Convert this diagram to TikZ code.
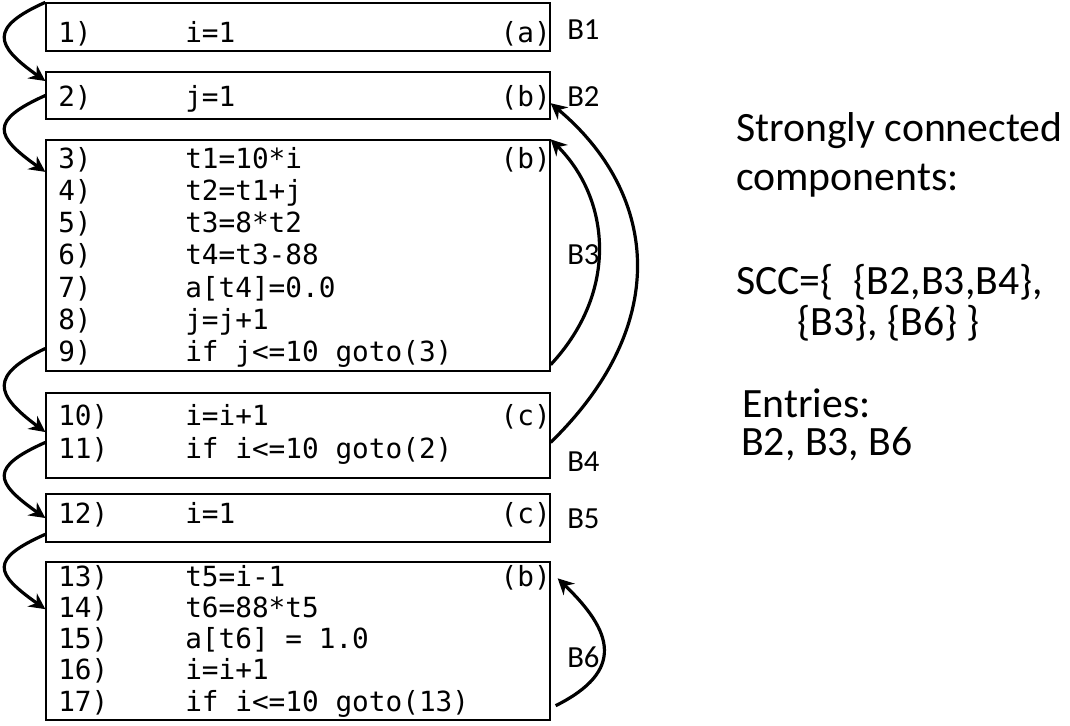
\documentclass[tikz,border=0pt]{standalone}
\usepackage{fontspec}
\setmainfont{Carlito}
\newfontfamily\codefont{DejaVu Sans Mono}
\usepackage{tikz}
\usetikzlibrary{arrows.meta}
\usetikzlibrary{calc}

\tikzset{
  blk/.style={draw, line width=1pt, minimum width=378pt, inner sep=0pt},
  num/.style={anchor=base west, inner sep=0pt, font=\codefont\fontsize{20.8}{24}\selectfont},
  tag/.style={anchor=base east, inner sep=0pt, font=\codefont\fontsize{20.8}{24}\selectfont},
  blabel/.style={anchor=west, inner sep=0pt, font=\fontsize{23}{26}\selectfont},
  note/.style={anchor=base west, inner sep=0pt, font=\fontsize{31.3}{36}\selectfont},
  flow/.style={line width=2.4pt, -{Stealth[length=12pt,width=12pt,inset=4pt]}}
}

\begin{document}
\begin{tikzpicture}[x=0.75pt,y=-0.75pt]
        \useasboundingbox (0,0) rectangle (1070,725);

        % basic blocks
        \node[blk, minimum height=36pt] (b1) at (298,27) {};
        \node[blk, minimum height=35.25pt] (b2) at (298,95.5) {};
        \node[blk, minimum height=173.25pt] (b3) at (298,255.5) {};
        \node[blk, minimum height=63.75pt] (b4) at (298,435.5) {};
        \node[blk, minimum height=36pt] (b5) at (298,518) {};
        \node[blk, minimum height=118.5pt] (b6) at (298,641) {};

        % B1
        \node[num] (n1) at (58,42) {1)};
        \node[num] (s1) at (185,42) {i=1};
        \node[tag] (t1) at (551,42) {(a)};

        % B2
        \node[num] (n2) at (58,106) {2)};
        \node[num] (s2) at (185,106) {j=1};
        \node[tag] (t2) at (551,106) {(b)};

        % B3
        \node[num] (n3) at (58,168) {3)};
        \node[num] (s3) at (185,168) {t1=10*i};
        \node[tag] (t3) at (551,168) {(b)};
        \node[num] (n4) at (58,200.3) {4)};
        \node[num] (s4) at (185,200.3) {t2=t1+j};
        \node[num] (n5) at (58,232.6) {5)};
        \node[num] (s5) at (185,232.6) {t3=8*t2};
        \node[num] (n6) at (58,264.9) {6)};
        \node[num] (s6) at (185,264.9) {t4=t3-88};
        \node[num] (n7) at (58,297.2) {7)};
        \node[num] (s7) at (185,297.2) {a[t4]=0.0};
        \node[num] (n8) at (58,329.5) {8)};
        \node[num] (s8) at (185,329.5) {j=j+1};
        \node[num] (n9) at (58,361.8) {9)};
        \node[num] (s9) at (185,361.8) {if j<=10 goto(3)};

        % B4
        \node[num] (n10) at (58,425) {10)};
        \node[num] (s10) at (185,425) {i=i+1};
        \node[tag] (t10) at (551,425) {(c)};
        \node[num] (n11) at (58,458) {11)};
        \node[num] (s11) at (185,458) {if i<=10 goto(2)};

        % B5
        \node[num] (n12) at (58,523) {12)};
        \node[num] (s12) at (185,523) {i=1};
        \node[tag] (t12) at (551,523) {(c)};

        % B6
        \node[num] (n13) at (58,586) {13)};
        \node[num] (s13) at (185,586) {t5=i-1};
        \node[tag] (t13) at (551,586) {(b)};
        \node[num] (n14) at (58,617.3) {14)};
        \node[num] (s14) at (185,617.3) {t6=88*t5};
        \node[num] (n15) at (58,648.6) {15)};
        \node[num] (s15) at (185,648.6) {a[t6] = 1.0};
        \node[num] (n16) at (58,679.9) {16)};
        \node[num] (s16) at (185,679.9) {i=i+1};
        \node[num] (n17) at (58,711.2) {17)};
        \node[num] (s17) at (185,711.2) {if i<=10 goto(13)};

        % block names
        \node[blabel] (lb1) at (567,30) {B1};
        \node[blabel] (lb2) at (567,97) {B2};
        \node[blabel] (lb3) at (567,255) {B3};
        \node[blabel] (lb4) at (567,462) {B4};
        \node[blabel] (lb5) at (567,519) {B5};
        \node[blabel] (lb6) at (567,657) {B6};

        % fall-through edges
        \draw[flow] (b1.north west) .. controls +(-56,25) and +(-51,-36)
        .. ($(b2.north west)!0.2!(b2.south west)$);
        \draw[flow] (b2.west) .. controls +(-56,25) and +(-51,-36)
        .. ($(b3.north west)!0.14!(b3.south west)$);
        \draw[flow] ($(b3.north west)!0.9!(b3.south west)$) .. controls
        +(-56,27) and +(-51,-38) .. ($(b4.north west)!0.46!(b4.south west)$);
        \draw[flow] ($(b4.north west)!0.58!(b4.south west)$) .. controls
        +(-56,25) and +(-51,-36) .. (b5.west);
        \draw[flow] ($(b5.north west)!0.83!(b5.south west)$) .. controls
        +(-56,25) and +(-51,-36) .. ($(b6.north west)!0.3!(b6.south west)$);

        % back edges
        \draw[flow] ($(b3.north east)!0.97!(b3.south east)$) .. controls
        +(69,-74) and +(59,59) .. (b3.north east);
        \draw[flow] ($(b4.north east)!0.58!(b4.south east)$) .. controls
        +(125,-122) and +(104,87) .. ($(b2.north east)!0.66!(b2.south east)$);
        \draw[flow] ($(b6.south east)+(5,-15)$) .. controls +(70,-35) and
        +(55,53) .. ($(b6.north east)+(7,17)$);

        % components
        \node[note] (h1) at (736,141) {Strongly connected};
        \node[note] (h2) at (736,190) {components:};
        \node[note] (h3) at (736,294) {SCC=\{\hspace{15pt}\{B2,B3,B4\},};
        \node[note] (h4) at (797,335) {\{B3\}, \{B6\} \}};
        \node[note] (h5) at (742,417) {Entries:};
        \node[note] (h6) at (741,455) {B2, B3, B6};
\end{tikzpicture}
\end{document}
